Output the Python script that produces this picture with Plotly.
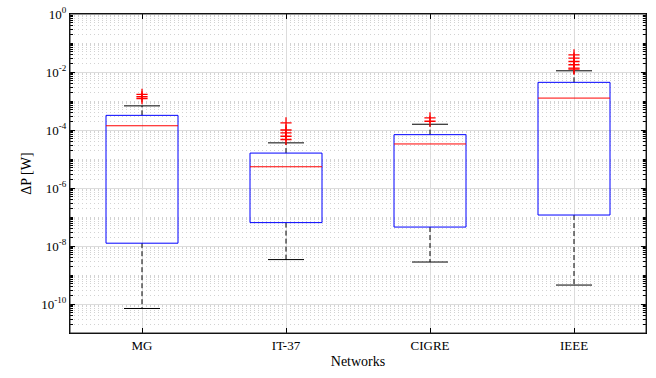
import numpy as np
import plotly.graph_objects as go

networks = ["MG", "IT-37", "CIGRE", "IEEE"]
q1 = [1.25e-8, 6.4e-8, 4.5e-8, 1.17e-7]
median = [1.4e-4, 5.4e-6, 3.3e-5, 1.26e-3]
q3 = [3.2e-4, 1.6e-5, 6.9e-5, 4.4e-3]
lower_whisker = [7e-11, 3.4e-9, 2.8e-9, 4.5e-10]
upper_whisker = [6.8e-4, 3.6e-5, 1.58e-4, 1.1e-2]
outliers = [
    [1.2e-3, 1.4e-3, 1.7e-3],
    [1.75e-4, 1.0e-4, 7.9e-5, 6.1e-5, 4.7e-5],
    [2.0e-4, 2.6e-4],
    [1.25e-2, 1.35e-2, 1.78e-2, 2.3e-2, 3.0e-2, 3.9e-2],
]
major_exps = [0, -2, -4, -6, -8, -10]

BOX_HW = 0.25
CAP_HW = 0.125

bx, by, mx, my, wx, wy, cx, cy, ox, oy = ([] for _ in range(10))
for i, name in enumerate(networks):
    x = i + 1
    bx += [x - BOX_HW, x + BOX_HW, x + BOX_HW, x - BOX_HW, x - BOX_HW, None]
    by += [q1[i], q1[i], q3[i], q3[i], q1[i], None]
    mx += [x - BOX_HW, x + BOX_HW, None]
    my += [median[i], median[i], None]
    wx += [x, x, None, x, x, None]
    wy += [q3[i], upper_whisker[i], None, q1[i], lower_whisker[i], None]
    cx += [x - CAP_HW, x + CAP_HW, None, x - CAP_HW, x + CAP_HW, None]
    cy += [upper_whisker[i], upper_whisker[i], None, lower_whisker[i], lower_whisker[i], None]
    ox += [x] * len(outliers[i])
    oy += outliers[i]

fig = go.Figure()
fig.add_trace(go.Scatter(x=wx, y=wy, mode="lines", line=dict(color="black", width=1, dash="5px,3px"), hoverinfo="skip"))
fig.add_trace(go.Scatter(x=cx, y=cy, mode="lines", line=dict(color="black", width=1), hoverinfo="skip"))
fig.add_trace(go.Scatter(x=bx, y=by, mode="lines", line=dict(color="#0000ff", width=1), hoverinfo="skip"))
fig.add_trace(go.Scatter(x=mx, y=my, mode="lines", line=dict(color="#ff0000", width=1), hoverinfo="skip"))
fig.add_trace(go.Scatter(x=ox, y=oy, mode="markers",
                         marker=dict(symbol="cross-thin", size=8, line=dict(color="#ff0000", width=1.3)),
                         hoverinfo="skip"))

minor_vals = []
for d in range(-11, 0):
    for k in range(1, 10):
        v = k * 10.0 ** d
        if k == 1 and (d in major_exps):
            continue
        minor_vals.append(v)

font = "Times New Roman, Liberation Serif, serif"
fig.update_layout(
    width=656, height=378,
    margin=dict(l=70, r=10, t=14, b=45, autoexpand=False),
    paper_bgcolor="white", plot_bgcolor="white",
    showlegend=False,
    font=dict(family=font, size=13, color="black"),
    xaxis=dict(
        range=[0.5, 4.5],
        automargin=False,
        tickvals=list(range(1, len(networks) + 1)),
        ticktext=networks,
        ticks="inside", ticklen=5, tickcolor="black",
        showline=True, linecolor="black", linewidth=1, mirror="ticks",
        showgrid=True, gridcolor="#dcdcdc", gridwidth=1,
        zeroline=False,
        title=dict(text="Networks", font=dict(family=font, size=14, color="black"), standoff=4),
        tickfont=dict(family=font, size=13, color="black"),
        ticklabeloverflow="allow",
    ),
    yaxis=dict(
        type="log",
        range=[-11, 0],
        automargin=False,
        tickvals=[10.0 ** e for e in major_exps],
        ticktext=["10<sup>%d</sup>" % e for e in major_exps],
        ticks="inside", ticklen=5, tickcolor="black",
        showline=True, linecolor="black", linewidth=1, mirror="ticks",
        showgrid=True, gridcolor="#dcdcdc", gridwidth=1,
        zeroline=False,
        title=dict(text="ΔP [W]", font=dict(family=font, size=14, color="black"), standoff=6),
        tickfont=dict(family=font, size=13, color="black"),
        ticklabeloverflow="allow",
        minor=dict(tickvals=minor_vals, ticks="inside", ticklen=3, tickcolor="black",
                   showgrid=True, gridcolor="#d2d2d2", griddash="1px,3px", gridwidth=1),
    ),
    shapes=[dict(type="rect", xref="paper", yref="paper", x0=0, x1=1, y0=0, y1=1,
                 line=dict(color="#262626", width=1), fillcolor="rgba(0,0,0,0)", layer="above")],
)

fig.write_html("out.html", config={"displayModeBar": False},
               post_script="document.body.style.margin='0px';")
